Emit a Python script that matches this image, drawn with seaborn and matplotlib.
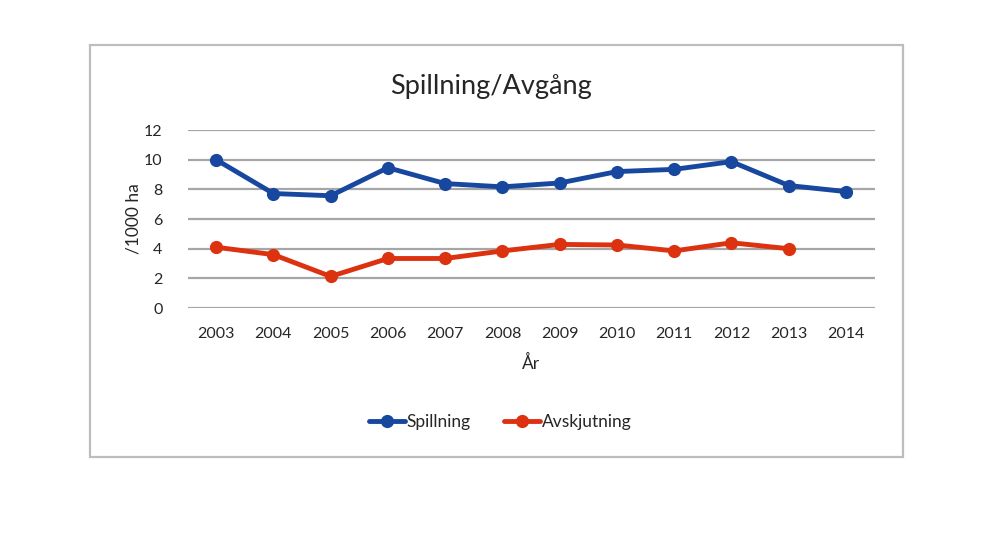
import pandas as pd
import numpy as np
import matplotlib
matplotlib.use('Agg')
import matplotlib.pyplot as plt
import seaborn as sns
from matplotlib.patches import Rectangle

years = [2003, 2004, 2005, 2006, 2007, 2008, 2009, 2010, 2011, 2012, 2013, 2014]
spillning = [10.0, 7.72, 7.57, 9.46, 8.39, 8.17, 8.43, 9.2, 9.35, 9.87, 8.26, 7.85]
avskjutning = [4.1, 3.6, 2.13, 3.34, 3.34, 3.85, 4.29, 4.25, 3.85, 4.4, 4.0, np.nan]

df = pd.DataFrame({'År': years * 2,
                   'value': spillning + avskjutning,
                   'serie': ['Spillning'] * len(years) + ['Avskjutning'] * len(years)})
df = df.dropna()

sns.set_style('white')
plt.rcParams['font.family'] = ['Lato', 'DejaVu Sans']

fig = plt.figure(figsize=(10, 5.33), dpi=100)
ax = fig.add_axes([0.1875, 0.4221, 0.6871, 0.3339])

# gray frame around the whole chart
fig.patches.append(Rectangle((0.09, 0.1426), 0.813, 0.773, transform=fig.transFigure,
                             fill=False, edgecolor='#bdbdbd', linewidth=1.6))

palette = {'Spillning': '#17479e', 'Avskjutning': '#dc3210'}
sns.lineplot(data=df, x='År', y='value', hue='serie', palette=palette, marker='o',
             markersize=9.5, linewidth=3.5, markeredgewidth=0, ax=ax, zorder=3)

ax.set_xlim(2002.5, 2014.5)
ax.set_ylim(0, 12)
ax.set_xticks(years)
ax.set_xticklabels([str(y) for y in years], fontsize=11.5)
ax.set_yticks(range(0, 13, 2))
ax.set_yticklabels([str(v) for v in range(0, 13, 2)], fontsize=11.5)
ax.tick_params(axis='both', length=0, pad=14)
ax.tick_params(axis='y', pad=18)
ax.yaxis.grid(True, color='#a6a6a6', linewidth=1.6)
ax.set_axisbelow(True)
for s in ax.spines.values():
    s.set_visible(False)

ax.set_xlabel('År', fontsize=12.5, labelpad=10)
ax.set_ylabel('/1000 ha', fontsize=12.5, labelpad=2)
fig.text(0.491, 0.837, 'Spillning/Avgång', fontsize=19.5, ha='center', va='center')

ax.legend(loc='upper center', bbox_to_anchor=(0.455, -0.51), ncol=2, frameon=False,
          fontsize=12.5, handlelength=2.1, handletextpad=0.1, columnspacing=1.9)

fig.savefig('out.png', dpi=100)
